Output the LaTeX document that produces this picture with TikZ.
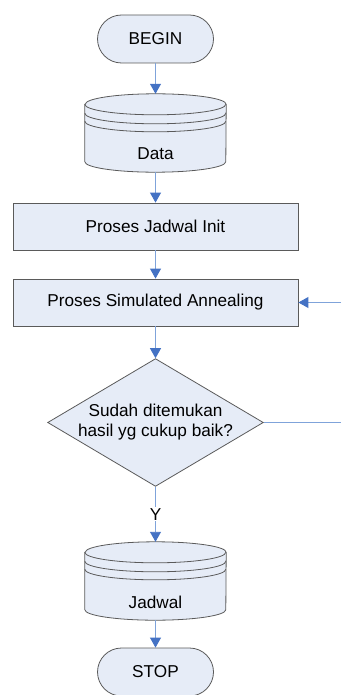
\documentclass[tikz,border=0pt]{standalone}
\usepackage{fontspec}
\setmainfont{Liberation Sans}
\usetikzlibrary{arrows.meta,shapes.geometric,calc}

\definecolor{boxfill}{HTML}{E6ECF7}
\definecolor{boxline}{HTML}{5A5A5A}
\definecolor{flowline}{HTML}{7FA3DA}
\definecolor{flowhead}{HTML}{4472C4}

\tikzset{
  every node/.style={font=\fontsize{17.2}{20}\selectfont, text=black},
  terminal/.style={draw=boxline, fill=boxfill, line width=0.8pt,
    rectangle, rounded corners=24pt, minimum width=116pt, minimum height=48pt, inner sep=0pt},
  process/.style={draw=boxline, fill=boxfill, line width=0.8pt,
    rectangle, minimum width=285pt, minimum height=47pt, inner sep=0pt},
  decision/.style={draw=boxline, fill=boxfill, line width=0.8pt,
    diamond, aspect=1.688, minimum width=211pt, minimum height=125pt,
    inner sep=0pt, align=center},
  drum/.style={rectangle, minimum width=141pt, minimum height=78pt, inner sep=0pt},
  flow/.style={draw=flowline, line width=0.9pt,
    -{Triangle[width=11pt,length=10pt,color=flowhead]}},
  plainflow/.style={draw=flowline, line width=0.9pt},
}

% stored-data drum drawn around a drum node
% (radii are absolute lengths, so angle 270 points down the page)
\newcommand\drawdrum[1]{%
  \path[draw=boxline, fill=boxfill, line width=0.8pt]
    ($(#1.north west)+(0,10.5)$) -- ($(#1.south west)+(0,-10.5)$)
    arc[start angle=180, end angle=360, x radius=70.5pt, y radius=10.5pt]
    -- ($(#1.north east)+(0,10.5)$)
    arc[start angle=0, end angle=180, x radius=70.5pt, y radius=10.5pt]
    -- cycle;
  \foreach \dy in {10.5,19.5,27.5}{
    \draw[boxline, line width=0.8pt] ($(#1.north west)+(0,\dy)$)
      arc[start angle=180, end angle=360, x radius=70.5pt, y radius=10.5pt];
  }%
}

\begin{document}
\begin{tikzpicture}[x=1pt, y=-1pt]
  \useasboundingbox (0,0) rectangle (341,695);

  \node[terminal] (begin) at (155.5,39) {BEGIN};
  \node[drum] (data) at (155.5,133) {};
  \drawdrum{data}
  \node[drum] at (data.center) {\raisebox{-27pt}[0pt][0pt]{Data}};
  \node[process] (init) at (155.5,226.5) {Proses Jadwal Init};
  \node[process] (sa) at (155.5,302.5) {Proses Simulated Annealing};
  \node[decision] (cek) at (155.5,422.5) {Sudah ditemukan\\hasil yg cukup baik?};
  \node[drum] (jadwal) at (155.5,581) {};
  \drawdrum{jadwal}
  \node[drum] at (jadwal.center) {\raisebox{-27pt}[0pt][0pt]{Jadwal}};
  \node[terminal] (stop) at (155.5,672) {STOP};

  \coordinate (loopin) at (341,302.5);
  \coordinate (loopout) at (341,422.5);

  \draw[flow] (begin) -- (data);
  \draw[flow] (data) -- (init);
  \draw[flow] (init) -- (sa);
  \draw[flow] (sa) -- (cek);
  \draw[flow] (cek) -- node[fill=white, inner sep=1pt] {Y} (jadwal);
  \draw[flow] (jadwal) -- (stop);
  \draw[flow] (loopin) -- (sa);
  \draw[plainflow] (cek) -- (loopout);
\end{tikzpicture}
\end{document}
